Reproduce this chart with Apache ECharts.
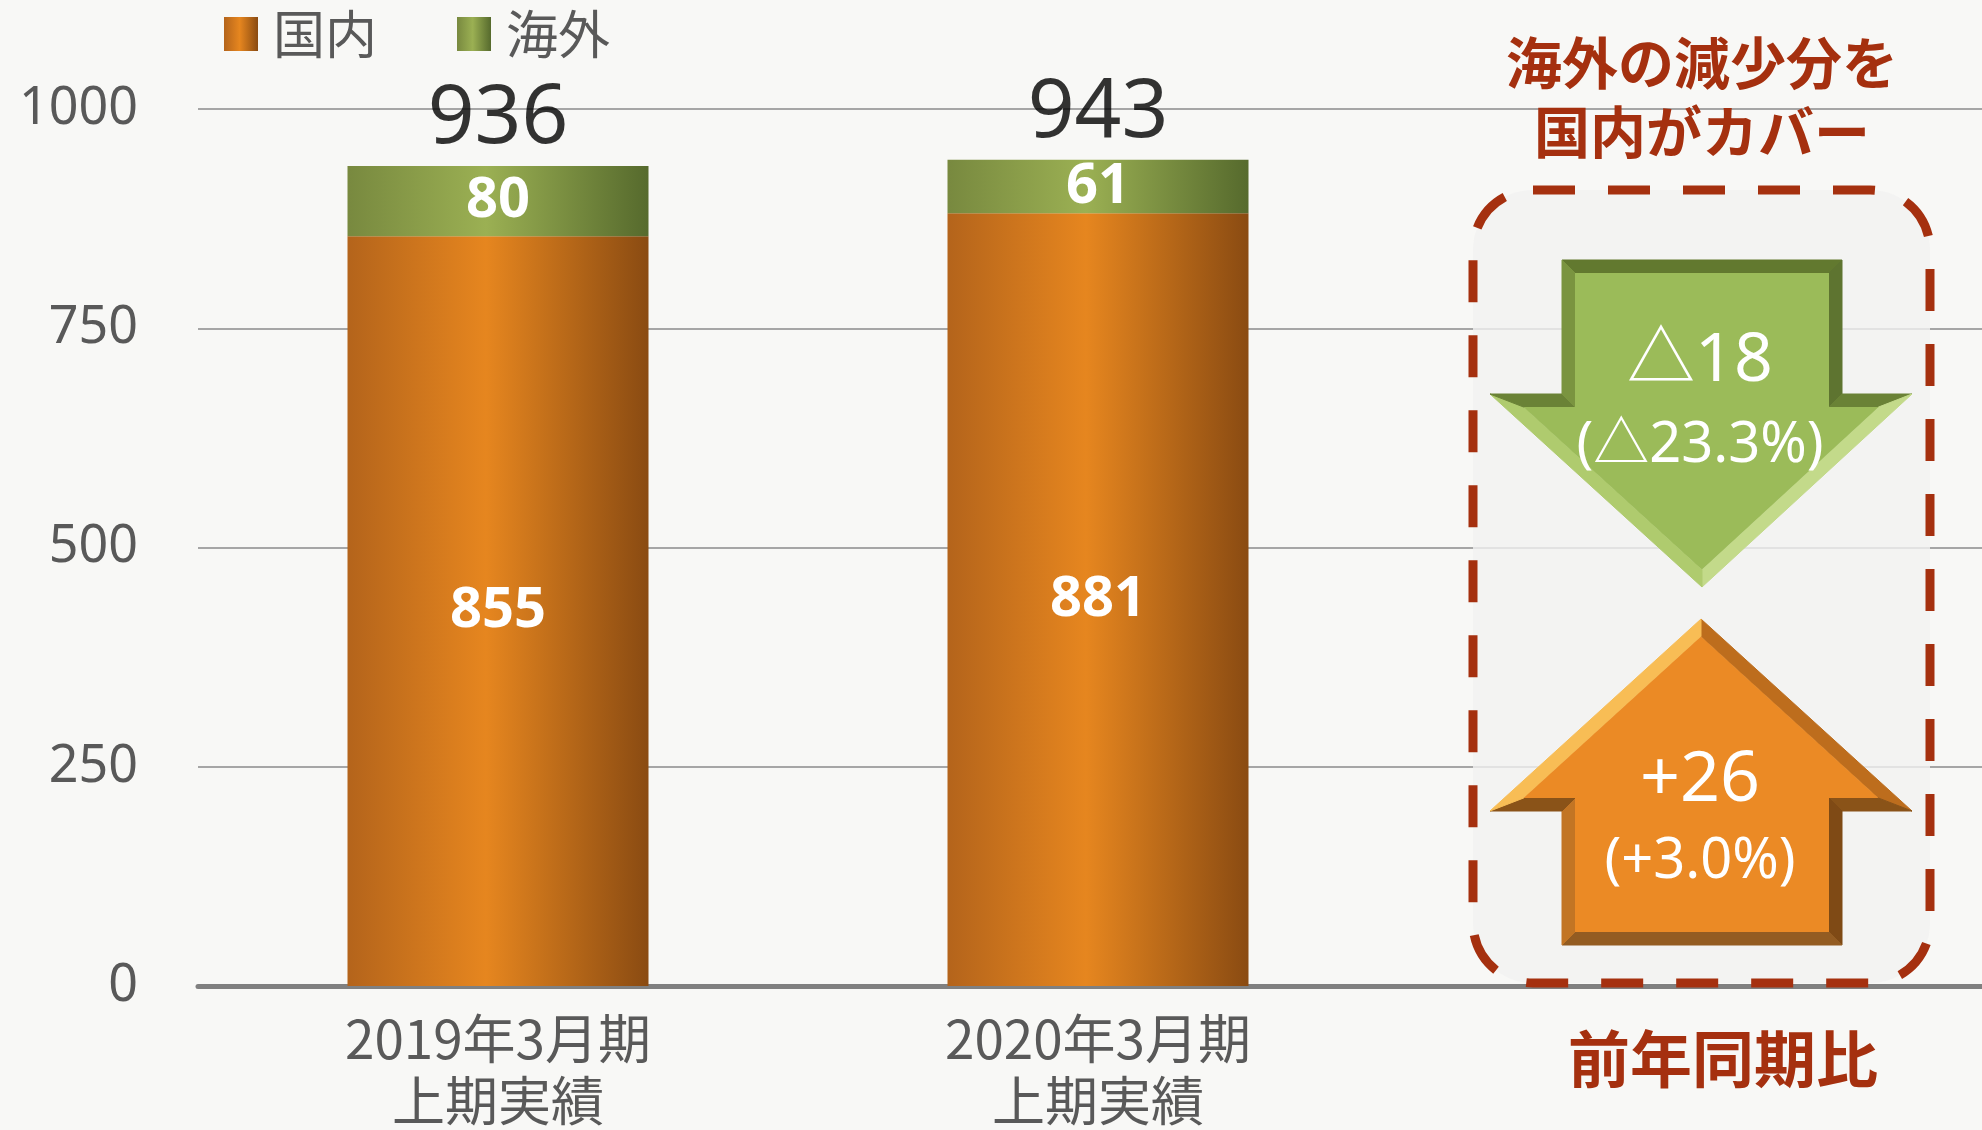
<!DOCTYPE html>
<html>
<head>
<meta charset="utf-8">
<title>国内・海外</title>
<script src="https://cdn.jsdelivr.net/npm/echarts@6.0.0/dist/echarts.min.js"></script>
<style>
html, body { margin: 0; padding: 0; background: #F8F8F6; }
#main { width: 1982px; height: 1130px; }
</style>
</head>
<body>
<div id="main"></div>
<script>
// データ
var categories = ['2019年3月期\n上期実績', '2020年3月期\n上期実績', ''];
var domestic = [855, 881, '-'];   // 国内
var overseas = [80, 61, '-'];     // 海外
var totals = [936, 943, '-'];     // 合計
var yMin = 0, yMax = 1000, yStep = 250;
var overseasChange = ['△18', '(△23.3%)'];
var domesticChange = ['+26', '(+3.0%)'];

var CJK = '"Noto Sans CJK JP", "Noto Sans", sans-serif';
var NUM = '"Noto Sans", "Noto Sans CJK JP", sans-serif';
var RED = '#A5300F';

function hGrad(stops) {
	return { type: 'linear', x: 0, y: 0, x2: 1, y2: 0, colorStops: stops };
}
var orangeGrad = hGrad([
	{ offset: 0, color: '#B4641B' },
	{ offset: 0.46, color: '#E6861F' },
	{ offset: 1, color: '#8A4B12' }
]);
var greenGrad = hGrad([
	{ offset: 0, color: '#78893F' },
	{ offset: 0.46, color: '#9BB053' },
	{ offset: 1, color: '#566A2D' }
]);

// 矢印のベベル用: ポリゴンを内側にずらす
function inset(pts, d) {
	var n = pts.length, lines = [], out = [];
	for (var i = 0; i < n; i++) {
		var a = pts[i], b = pts[(i + 1) % n];
		var dx = b[0] - a[0], dy = b[1] - a[1], len = Math.sqrt(dx * dx + dy * dy);
		lines.push({ p: [a[0] - dy / len * d, a[1] + dx / len * d], v: [dx, dy] });
	}
	for (var j = 0; j < n; j++) {
		var l1 = lines[(j - 1 + n) % n], l2 = lines[j];
		var cr = l1.v[0] * l2.v[1] - l1.v[1] * l2.v[0];
		var wx = l2.p[0] - l1.p[0], wy = l2.p[1] - l1.p[1];
		var t = (wx * l2.v[1] - wy * l2.v[0]) / cr;
		out.push([l1.p[0] + t * l1.v[0], l1.p[1] + t * l1.v[1]]);
	}
	return out;
}
// 3D風の矢印 (辺ごとに面の色を指定)
function bevelArrow(pts, depth, base, edgeColors) {
	var inner = inset(pts, depth), els = [], n = pts.length;
	for (var i = 0; i < n; i++) {
		var col = edgeColors[i];
		els.push({ type: 'polygon', z: 102, shape: { points: [pts[i], pts[(i + 1) % n], inner[(i + 1) % n], inner[i]] },
			style: { fill: col, stroke: col, lineWidth: 1 } });
	}
	els.push({ type: 'polygon', z: 103, shape: { points: inner }, style: { fill: base } });
	return els;
}

var downArrow = [[1562, 260], [1842, 260], [1842, 394], [1912, 394], [1702, 587], [1490, 394], [1562, 394]];
var upArrow = [[1701, 619], [1912, 811], [1842, 811], [1842, 945], [1562, 945], [1562, 811], [1490, 811]];

function txt(x, y, s, size, family, weight, color) {
	return { type: 'text', z: 104, x: x, y: y,
		style: { text: s, fontSize: size, fontFamily: family, fontWeight: weight, fill: color, textAlign: 'center', textVerticalAlign: 'middle' } };
}

var graphics = [
	// 点線の枠
	{ type: 'rect', z: 100, shape: { x: 1473, y: 190, width: 457, height: 793, r: 60 },
	  style: { fill: 'rgba(241,241,241,0.8)', stroke: RED, lineWidth: 9, lineDash: [42, 33] } },
	txt(1702, 63, '海外の減少分を', 56, CJK, 'bold', RED),
	txt(1702, 132, '国内がカバー', 56, CJK, 'bold', RED),
	txt(1723, 1059, '前年同期比', 62, CJK, 'bold', RED)
];
graphics = graphics
	.concat(bevelArrow(downArrow, 13, '#9BBB59',
		['#62792F', '#5E7430', '#6A8236', '#C3DA8A', '#AFCB6E', '#6A8236', '#7A9440']))
	.concat(bevelArrow(upArrow, 13, '#EB8A25',
		['#BD6D1D', '#8A5318', '#7F4A15', '#935C22', '#C27524', '#8A5318', '#F8BD55']));
graphics.push(
	txt(1700, 362, overseasChange[0], 68, NUM, 'normal', '#fff'),
	txt(1700, 446, overseasChange[1], 56, NUM, 'normal', '#fff'),
	txt(1700, 781, domesticChange[0], 70, NUM, 'normal', '#fff'),
	txt(1700, 862, domesticChange[1], 56, NUM, 'normal', '#fff')
);

var myChart = echarts.init(document.getElementById('main'), null, { renderer: 'canvas' });
var option = {
	backgroundColor: '#F8F8F6',
	animation: false,
	legend: {
		data: ['国内', '海外'],
		left: 224,
		top: 8,
		padding: 0,
		itemWidth: 34,
		itemHeight: 34,
		itemGap: 80,
		icon: 'rect',
		textStyle: { fontSize: 52, color: '#595959', fontFamily: CJK, padding: [0, 0, 20, 10] }
	},
	grid: { left: 198, right: -16, top: 109, bottom: 144, containLabel: false, outerBoundsMode: 'none' },
	xAxis: {
		type: 'category',
		data: categories,
		axisTick: { show: false },
		axisLine: { lineStyle: { color: '#808080', width: 5 } },
		axisLabel: { interval: 0, fontSize: 53, lineHeight: 62, margin: 22, color: '#595959', fontFamily: CJK }
	},
	yAxis: {
		type: 'value',
		min: yMin,
		max: yMax,
		interval: yStep,
		axisLine: { show: false },
		axisTick: { show: false },
		axisLabel: {
			fontSize: 52, color: '#595959', margin: 60, fontFamily: NUM, padding: [0, 0, 10, 0],
			formatter: function (v) { return String(v); }
		},
		splitLine: { lineStyle: { color: '#A6A6A6', width: 2 } }
	},
	series: [
		{
			name: '国内', type: 'bar', stack: 'total', barWidth: 301,
			data: domestic,
			itemStyle: { color: orangeGrad },
			label: { show: true, position: 'inside', color: '#fff', fontSize: 56, fontWeight: 'bold', fontFamily: NUM }
		},
		{
			name: '海外', type: 'bar', stack: 'total', barWidth: 301,
			data: overseas,
			itemStyle: { color: greenGrad },
			label: { show: true, position: 'inside', color: '#fff', fontSize: 56, fontWeight: 'bold', fontFamily: NUM }
		},
		{
			name: '合計', type: 'scatter', symbolSize: 0, silent: true,
			data: totals,
			label: { show: true, position: 'top', distance: 4, color: '#000', fontSize: 82, fontFamily: NUM }
		}
	],
	graphic: graphics
};
myChart.setOption(option);
</script>
</body>
</html>
